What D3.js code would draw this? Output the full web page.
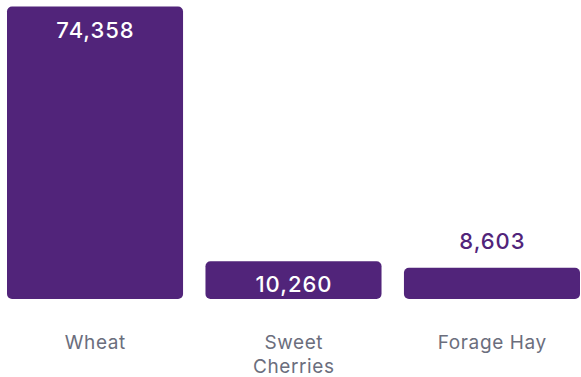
<!DOCTYPE html>
<html>
<head>
<meta charset="utf-8">
<script src="https://cdn.jsdelivr.net/npm/d3@7"></script>
<style>
  html, body { margin: 0; padding: 0; background: #ffffff; }
  svg { display: block; }
</style>
</head>
<body>
<svg id="chart" width="581" height="377"></svg>
<script>
// Crop production values
const categories = ["Wheat", "Sweet Cherries", "Forage Hay"];
const categoryLines = [["Wheat"], ["Sweet", "Cherries"], ["Forage Hay"]];
const values = [74358, 10260, 8603];

const W = 581, H = 377;
const barColor = "#51247a";
const labelColor = "#6b6e7d";
const fontFamily = "Inter, 'Noto Sans', sans-serif";

const svg = d3.select("#chart");

const x = d3.scaleBand()
  .domain(categories)
  .range([7, 580])
  .paddingInner(0.113)
  .paddingOuter(0);

const baseline = 302;   // zero of the value scale
const barBottom = 299;  // visible bottom edge of the bars
const y = d3.scaleLinear()
  .domain([0, d3.max(values)])
  .range([baseline, 6.5]);

const data = categories.map((c, i) => ({ cat: c, value: values[i], lines: categoryLines[i] }));
const fmt = d3.format(",");
const insideMin = 35; // bars shorter than this get the label above

const g = svg.append("g");

g.selectAll("rect.bar")
  .data(data)
  .join("rect")
  .attr("class", "bar")
  .attr("x", d => x(d.cat))
  .attr("y", d => y(d.value))
  .attr("width", x.bandwidth())
  .attr("height", d => barBottom - y(d.value))
  .attr("rx", 5)
  .attr("ry", 5)
  .attr("fill", barColor);

g.selectAll("text.value")
  .data(data)
  .join("text")
  .attr("class", "value")
  .attr("x", d => x(d.cat) + x.bandwidth() / 2 + 0.5)
  .attr("y", d => {
    const h = barBottom - y(d.value);
    return h >= insideMin ? y(d.value) + 31 : y(d.value) - 19;
  })
  .attr("text-anchor", "middle")
  .attr("font-family", fontFamily)
  .attr("font-size", 22)
  .attr("font-weight", 500)
  .attr("letter-spacing", 1)
  .attr("fill", d => (barBottom - y(d.value)) >= insideMin ? "#ffffff" : barColor)
  .text(d => fmt(d.value));

const cats = g.selectAll("text.cat")
  .data(data)
  .join("text")
  .attr("class", "cat")
  .attr("x", d => x(d.cat) + x.bandwidth() / 2)
  .attr("y", 349)
  .attr("text-anchor", "middle")
  .attr("font-family", fontFamily)
  .attr("font-size", 19)
  .attr("font-weight", 400)
  .attr("letter-spacing", 0.6)
  .attr("fill", labelColor);

cats.selectAll("tspan")
  .data(d => d.lines.map(l => ({ l, cx: x(d.cat) + x.bandwidth() / 2 + 0.3 })))
  .join("tspan")
  .attr("x", t => t.cx)
  .attr("dy", (t, i) => i === 0 ? 0 : 24)
  .text(t => t.l);
</script>
</body>
</html>
